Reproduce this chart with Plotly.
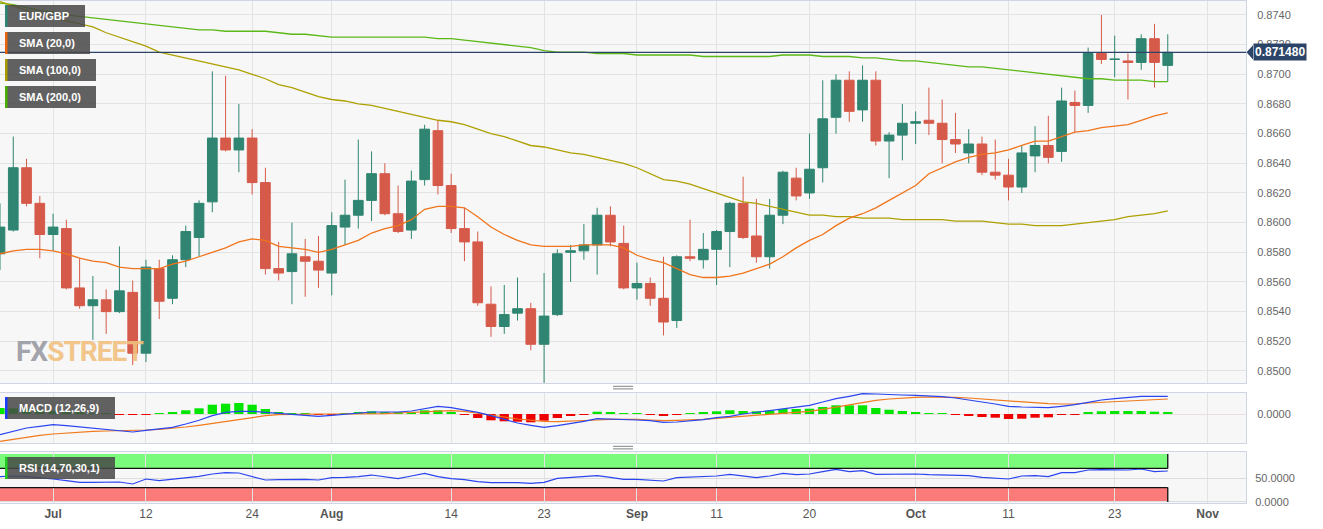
import pandas as pd
import plotly.graph_objects as go

# ---------------- data ----------------
dates = pd.bdate_range("2023-06-27", "2023-10-27")  # 89 daily candles

opens = [0.8579, 0.8595, 0.8637, 0.8613, 0.8592, 0.8596, 0.8556, 0.8544, 0.8548, 0.8540,
         0.8553, 0.8512, 0.8569, 0.8549, 0.8575, 0.8590, 0.8614, 0.8657, 0.8649, 0.8657,
         0.8627, 0.8569, 0.8567, 0.8577, 0.8574, 0.8566, 0.8597, 0.8605, 0.8615, 0.8633,
         0.8606, 0.8595, 0.8629, 0.8662, 0.8625, 0.8596, 0.8587, 0.8545, 0.8530, 0.8539,
         0.8542, 0.8518, 0.8538, 0.8580, 0.8581, 0.8585, 0.8605, 0.8586, 0.8556, 0.8559,
         0.8549, 0.8534, 0.8577, 0.8575, 0.8582, 0.8594, 0.8613, 0.8591, 0.8577, 0.8605,
         0.8630, 0.8620, 0.8637, 0.8671, 0.8696, 0.8676, 0.8696, 0.8655, 0.8659, 0.8667,
         0.8669, 0.8667, 0.8656, 0.8647, 0.8653, 0.8634, 0.8632, 0.8624, 0.8645, 0.8652,
         0.8648, 0.8681, 0.8679, 0.8714, 0.8710, 0.8709, 0.8708, 0.8724, 0.8706]
highs = [0.8613, 0.8658, 0.8643, 0.8618, 0.8606, 0.8602, 0.8576, 0.8564, 0.8555, 0.8584,
         0.8561, 0.8575, 0.8575, 0.8578, 0.8598, 0.8615, 0.8702, 0.8699, 0.8680, 0.8663,
         0.8637, 0.8587, 0.8600, 0.8589, 0.8591, 0.8607, 0.8629, 0.8656, 0.8648, 0.8640,
         0.8625, 0.8635, 0.8666, 0.8669, 0.8633, 0.8610, 0.8594, 0.8557, 0.8558, 0.8563,
         0.8546, 0.8566, 0.8582, 0.8585, 0.8599, 0.8610, 0.8611, 0.8598, 0.8573, 0.8563,
         0.8577, 0.8578, 0.8602, 0.8593, 0.8595, 0.8614, 0.8631, 0.8616, 0.8616, 0.8635,
         0.8637, 0.8660, 0.8696, 0.8700, 0.8702, 0.8706, 0.8702, 0.8661, 0.8680, 0.8675,
         0.8691, 0.8683, 0.8674, 0.8663, 0.8658, 0.8656, 0.8643, 0.8652, 0.8665, 0.8672,
         0.8691, 0.8689, 0.8718, 0.8740, 0.8726, 0.8714, 0.8727, 0.8734, 0.8727]
lows = [0.8568, 0.8594, 0.8611, 0.8576, 0.8581, 0.8555, 0.8542, 0.8521, 0.8525, 0.8539,
        0.8504, 0.8506, 0.8535, 0.8545, 0.8570, 0.8577, 0.8607, 0.8648, 0.8634, 0.8619,
        0.8565, 0.8561, 0.8545, 0.8550, 0.8556, 0.8551, 0.8585, 0.8596, 0.8601, 0.8605,
        0.8593, 0.8589, 0.8625, 0.8619, 0.8593, 0.8574, 0.8544, 0.8523, 0.8525, 0.8534,
        0.8514, 0.8492, 0.8537, 0.8560, 0.8575, 0.8565, 0.8584, 0.8555, 0.8548, 0.8544,
        0.8524, 0.8529, 0.8574, 0.8569, 0.8558, 0.8570, 0.8589, 0.8573, 0.8569, 0.8599,
        0.8615, 0.8616, 0.8627, 0.8660, 0.8668, 0.8668, 0.8652, 0.8630, 0.8642, 0.8653,
        0.8659, 0.8640, 0.8647, 0.8640, 0.8632, 0.8629, 0.8615, 0.8620, 0.8634, 0.8640,
        0.8641, 0.8661, 0.8674, 0.8707, 0.8698, 0.8683, 0.8703, 0.8691, 0.8695]
closes = [0.8597, 0.8637, 0.8613, 0.8592, 0.8597, 0.8556, 0.8544, 0.8548, 0.8540, 0.8554,
          0.8512, 0.8570, 0.8547, 0.8575, 0.8594, 0.8613, 0.8657, 0.8649, 0.8657, 0.8627,
          0.8569, 0.8566, 0.8579, 0.8574, 0.8568, 0.8598, 0.8605, 0.8615, 0.8633, 0.8606,
          0.8594, 0.8628, 0.8663, 0.8625, 0.8596, 0.8587, 0.8546, 0.8530, 0.8538, 0.8542,
          0.8518, 0.8537, 0.8579, 0.8581, 0.8585, 0.8605, 0.8587, 0.8556, 0.8559, 0.8549,
          0.8533, 0.8577, 0.8576, 0.8582, 0.8594, 0.8613, 0.8590, 0.8577, 0.8605, 0.8634,
          0.8618, 0.8636, 0.8670, 0.8696, 0.8675, 0.8696, 0.8655, 0.8659, 0.8667, 0.8668,
          0.8667, 0.8656, 0.8653, 0.8653, 0.8634, 0.8632, 0.8624, 0.8647, 0.8652, 0.8644,
          0.8682, 0.8679, 0.8714, 0.8710, 0.87102, 0.8708, 0.8724, 0.8708, 0.87148]

sma20 = [0.8579, 0.8581, 0.8582, 0.8582, 0.8581, 0.8579, 0.8576, 0.8574, 0.8573, 0.8570,
         0.8569, 0.8569, 0.8569, 0.8572, 0.8574, 0.8577, 0.8580, 0.8583, 0.8587, 0.8589,
         0.8588, 0.8584, 0.8583, 0.8582, 0.8580, 0.8582, 0.8585, 0.8588, 0.8593, 0.8596,
         0.8598, 0.8602, 0.8609, 0.8611, 0.8611, 0.8610, 0.8604, 0.8597, 0.8592, 0.8588,
         0.8585, 0.8584, 0.8584, 0.8584, 0.8585, 0.8585, 0.8585, 0.8583, 0.8578, 0.8575,
         0.8573, 0.8569, 0.8565, 0.8563, 0.8563, 0.8564, 0.8566, 0.8569, 0.8572, 0.8577,
         0.8583, 0.8588, 0.8592, 0.8598, 0.8603, 0.8606, 0.8610, 0.8615, 0.8620, 0.8625,
         0.8633, 0.8637, 0.8641, 0.8644, 0.8646, 0.8647, 0.8649, 0.8652, 0.8655, 0.8655,
         0.8658, 0.8661, 0.8662, 0.8664, 0.8665, 0.8666, 0.8669, 0.8672, 0.8674]
sma100 = [0.8749, 0.8746, 0.8743, 0.8741, 0.8738, 0.8736, 0.8734, 0.8732, 0.8728, 0.8725,
          0.8722, 0.8719, 0.8715, 0.8713, 0.8711, 0.8709, 0.8707, 0.8705, 0.8703, 0.8700,
          0.8697, 0.8693, 0.8691, 0.8688, 0.8685, 0.8683, 0.8682, 0.8680, 0.8679, 0.8677,
          0.8675, 0.8673, 0.8671, 0.8669, 0.8668, 0.8666, 0.8663, 0.8660, 0.8658, 0.8655,
          0.8652, 0.8651, 0.8649, 0.8647, 0.8646, 0.8644, 0.8642, 0.8640, 0.8637, 0.8633,
          0.8629, 0.8628, 0.8626, 0.8623, 0.8620, 0.8617, 0.8614, 0.8613, 0.8611, 0.8609,
          0.8607, 0.8605, 0.8605, 0.8604, 0.8604, 0.8603, 0.8603, 0.8603, 0.8602, 0.8602,
          0.8602, 0.8602, 0.8601, 0.8601, 0.8601, 0.8600, 0.8599, 0.8599, 0.8598, 0.8598,
          0.8598, 0.8599, 0.8600, 0.8601, 0.8602, 0.8604, 0.8605, 0.8606, 0.8608]
sma200 = [0.8748, 0.8747, 0.8745, 0.8743, 0.8742, 0.8740, 0.8739, 0.8738, 0.8737, 0.8736,
          0.8735, 0.8734, 0.8733, 0.8732, 0.8731, 0.8730, 0.8730, 0.8729, 0.8729, 0.8729,
          0.8729, 0.8728, 0.8727, 0.8727, 0.8726, 0.8725, 0.8725, 0.8725, 0.8725, 0.8725,
          0.8725, 0.8725, 0.8725, 0.8724, 0.8724, 0.8723, 0.8722, 0.8721, 0.8720, 0.8719,
          0.8718, 0.8716, 0.8715, 0.8715, 0.8715, 0.8714, 0.8714, 0.8714, 0.8713, 0.8713,
          0.8713, 0.8713, 0.8713, 0.8712, 0.8712, 0.8712, 0.8712, 0.8712, 0.8712, 0.8713,
          0.8713, 0.8713, 0.8712, 0.8712, 0.8712, 0.8711, 0.8711, 0.8710, 0.8709, 0.8709,
          0.8708, 0.8707, 0.8706, 0.8705, 0.8705, 0.8704, 0.8703, 0.8702, 0.8701, 0.8700,
          0.8699, 0.8698, 0.8697, 0.8697, 0.8696, 0.8696, 0.8696, 0.8695, 0.8695]

macd_line = [-0.00207, -0.00173, -0.00140, -0.00123, -0.00107, -0.00117, -0.00130, -0.00143, -0.00157, -0.00170,
             -0.00180, -0.00163, -0.00150, -0.00133, -0.00100, -0.00063, -0.00017, 0.00017, 0.00027, 0.00027,
             0.00017, 0.00007, 0.00000, -0.00010, -0.00023, -0.00013, 0.00000, 0.00010, 0.00020, 0.00020,
             0.00020, 0.00030, 0.00053, 0.00077, 0.00063, 0.00043, 0.00017, -0.00017, -0.00057, -0.00090,
             -0.00113, -0.00133, -0.00117, -0.00097, -0.00073, -0.00047, -0.00050, -0.00057, -0.00060, -0.00067,
             -0.00083, -0.00080, -0.00070, -0.00057, -0.00037, -0.00023, 0.00000, 0.00017, 0.00033, 0.00050,
             0.00063, 0.00087, 0.00120, 0.00153, 0.00177, 0.00203, 0.00200, 0.00193, 0.00190, 0.00187,
             0.00183, 0.00173, 0.00160, 0.00143, 0.00120, 0.00100, 0.00077, 0.00070, 0.00067, 0.00063,
             0.00077, 0.00093, 0.00117, 0.00140, 0.00153, 0.00163, 0.00177, 0.00177, 0.00177]
macd_signal = [-0.00273, -0.00253, -0.00230, -0.00213, -0.00200, -0.00190, -0.00180, -0.00173, -0.00170, -0.00167,
               -0.00167, -0.00160, -0.00153, -0.00143, -0.00130, -0.00113, -0.00093, -0.00070, -0.00050, -0.00030,
               -0.00017, -0.00007, -0.00003, 0.00000, 0.00000, 0.00000, 0.00000, 0.00000, 0.00000, 0.00003,
               0.00010, 0.00017, 0.00023, 0.00030, 0.00033, 0.00027, 0.00010, -0.00007, -0.00030, -0.00050,
               -0.00063, -0.00073, -0.00077, -0.00073, -0.00067, -0.00060, -0.00053, -0.00050, -0.00053, -0.00060,
               -0.00067, -0.00063, -0.00060, -0.00053, -0.00043, -0.00033, -0.00023, -0.00013, -0.00003, 0.00007,
               0.00013, 0.00027, 0.00047, 0.00070, 0.00093, 0.00120, 0.00137, 0.00150, 0.00160, 0.00167,
               0.00170, 0.00170, 0.00167, 0.00160, 0.00150, 0.00140, 0.00130, 0.00120, 0.00110, 0.00103,
               0.00100, 0.00100, 0.00110, 0.00117, 0.00123, 0.00130, 0.00137, 0.00143, 0.00150]
macd_hist = [0.00060, 0.00057, 0.00050, 0.00040, 0.00030, 0.00020, 0.00013, 0.00007, 0.00003, -0.00003,
             -0.00010, -0.00003, 0.00003, 0.00020, 0.00037, 0.00057, 0.00093, 0.00103, 0.00110, 0.00093,
             0.00050, 0.00020, 0.00010, 0.00003, -0.00010, -0.00003, 0.00010, 0.00017, 0.00027, 0.00020,
             0.00020, 0.00020, 0.00037, 0.00037, 0.00017, -0.00010, -0.00040, -0.00063, -0.00073, -0.00077,
             -0.00083, -0.00067, -0.00040, -0.00017, -0.00003, 0.00023, 0.00020, 0.00010, 0.00010, -0.00010,
             -0.00017, -0.00003, 0.00010, 0.00017, 0.00027, 0.00037, 0.00030, 0.00027, 0.00033, 0.00050,
             0.00050, 0.00053, 0.00070, 0.00087, 0.00087, 0.00087, 0.00060, 0.00043, 0.00030, 0.00020,
             0.00010, 0.00003, -0.00010, -0.00017, -0.00030, -0.00037, -0.00050, -0.00047, -0.00037, -0.00033,
             -0.00010, -0.00003, 0.00017, 0.00027, 0.00030, 0.00030, 0.00030, 0.00023, 0.00020]
rsi = [52.8, 54.2, 52.8, 50.7, 47.9, 44.4, 41.0, 41.0, 41.7, 41.7,
       37.5, 47.9, 44.4, 47.2, 51.4, 53.5, 58.3, 61.1, 60.4, 52.8,
       45.8, 46.5, 47.2, 47.2, 45.8, 50.7, 51.4, 52.8, 56.2, 52.8,
       48.6, 54.2, 59.7, 52.8, 48.6, 46.5, 42.4, 40.3, 41.0, 40.3,
       38.9, 41.0, 49.3, 50.7, 52.1, 54.9, 51.4, 47.2, 47.2, 45.8,
       43.8, 50.7, 51.4, 52.8, 54.2, 57.6, 54.9, 50.7, 54.2, 59.7,
       56.9, 58.3, 63.2, 68.1, 63.2, 65.3, 57.6, 58.3, 58.3, 58.3,
       56.9, 56.2, 56.2, 54.9, 51.4, 49.3, 47.9, 54.2, 54.9, 52.8,
       61.1, 61.1, 66.7, 67.4, 66.7, 66.7, 68.8, 63.2, 64.6]

tick_dates = ["2023-07-03", "2023-07-12", "2023-07-24", "2023-08-01", "2023-08-14", "2023-08-23",
              "2023-09-01", "2023-09-11", "2023-09-20", "2023-10-02", "2023-10-11", "2023-10-23",
              "2023-11-01"]
tick_labels = ["<b>Jul</b>", "12", "24", "<b>Aug</b>", "14", "23", "<b>Sep</b>", "11", "20",
               "<b>Oct</b>", "11", "23", "<b>Nov</b>"]
last_price = 0.871480
rsi_upper, rsi_lower = 70, 30

# ---------------- positions on a trading-day axis ----------------
calendar = pd.bdate_range("2023-06-27", "2023-11-30")
pos = {d: i for i, d in enumerate(calendar)}
xs = [pos[d] for d in dates]
tickvals = [pos[pd.Timestamp(d)] for d in tick_dates]

W, H = 1323, 529
PW, PH, PB = 1246, 502, 26


def px(x):
    return x / PW


def py(y):
    return (H - PB - y) / PH


GREEN = "#2f8571"
RED = "#d65a4a"

fig = go.Figure()
fig.add_trace(go.Candlestick(
    x=xs, open=opens, high=highs, low=lows, close=closes,
    increasing=dict(line=dict(color=GREEN, width=1), fillcolor=GREEN),
    decreasing=dict(line=dict(color=RED, width=1), fillcolor=RED),
    whiskerwidth=0, xaxis="x", yaxis="y", showlegend=False, hoverinfo="skip"))
fig.add_trace(go.Scatter(x=xs, y=sma200, mode="lines", line=dict(color="#5cb816", width=1.3),
                         xaxis="x", yaxis="y", showlegend=False, hoverinfo="skip"))
fig.add_trace(go.Scatter(x=xs, y=sma100, mode="lines", line=dict(color="#aea000", width=1.3),
                         xaxis="x", yaxis="y", showlegend=False, hoverinfo="skip"))
fig.add_trace(go.Scatter(x=xs, y=sma20, mode="lines", line=dict(color="#f0741c", width=1.3),
                         xaxis="x", yaxis="y", showlegend=False, hoverinfo="skip"))

# MACD
fig.add_trace(go.Bar(x=xs, y=macd_hist, width=0.7,
                     marker=dict(color=["#00e600" if v >= 0 else "#ee0000" for v in macd_hist], line_width=0),
                     xaxis="x2", yaxis="y2", showlegend=False, hoverinfo="skip"))
fig.add_trace(go.Scatter(x=xs, y=macd_signal, mode="lines", line=dict(color="#f07a1c", width=1.2),
                         xaxis="x2", yaxis="y2", showlegend=False, hoverinfo="skip"))
fig.add_trace(go.Scatter(x=xs, y=macd_line, mode="lines", line=dict(color="#2a45f0", width=1.2),
                         xaxis="x2", yaxis="y2", showlegend=False, hoverinfo="skip"))

# RSI
fig.add_trace(go.Scatter(x=xs, y=rsi, mode="lines", line=dict(color="#2a45f0", width=1.2),
                         xaxis="x3", yaxis="y3", showlegend=False, hoverinfo="skip"))

shapes = []
last_x = xs[-1]
# RSI bands
shapes += [
    dict(type="rect", xref="x3", yref="y3", x0=-1, x1=last_x, y0=rsi_upper, y1=100,
         fillcolor="rgba(0,255,0,0.5)", line_width=0, layer="below"),
    dict(type="rect", xref="x3", yref="y3", x0=-1, x1=last_x, y0=0, y1=rsi_lower,
         fillcolor="rgba(255,0,0,0.5)", line_width=0, layer="below"),
    dict(type="line", xref="x3", yref="y3", x0=-1, x1=last_x, y0=rsi_upper, y1=rsi_upper,
         line=dict(color="#111", width=1.3)),
    dict(type="line", xref="x3", yref="y3", x0=last_x, x1=last_x, y0=rsi_upper, y1=100,
         line=dict(color="#111", width=1.3)),
    dict(type="line", xref="x3", yref="y3", x0=-1, x1=last_x, y0=rsi_lower, y1=rsi_lower,
         line=dict(color="#111", width=1.3)),
    dict(type="line", xref="x3", yref="y3", x0=last_x, x1=last_x, y0=0, y1=rsi_lower,
         line=dict(color="#111", width=1.3)),
]
# current price line + arrow of the tag
shapes.append(dict(type="line", xref="paper", yref="y", x0=0, x1=1, y0=last_price, y1=last_price,
                   line=dict(color="#2c4468", width=1.3)))
shapes.append(dict(type="path", xref="paper", yref="y",
                   path=f"M {px(1246.5)} {last_price} L {px(1253)} {last_price + 0.00048} "
                        f"L {px(1253)} {last_price - 0.00048} Z",
                   fillcolor="#2c4468", line_width=0))
# splitter handles
for yy in (386.3, 388.9, 446.3, 448.9):
    shapes.append(dict(type="line", xref="paper", yref="paper", x0=px(613), x1=px(633),
                       y0=py(yy), y1=py(yy), line=dict(color="#808080", width=1)))

annotations = []
labels = [("EUR/GBP", GREEN, 85, 5, 27),
          ("SMA (20,0)", "#e8650e", 90, 32, 54),
          ("SMA (100,0)", "#a89a00", 96, 59, 81),
          ("SMA (200,0)", "#4cae00", 96, 86, 108),
          ("MACD (12,26,9)", "#1a3cff", 115, 397, 419),
          ("RSI (14,70,30,1)", "#22cc22", 115, 457, 479)]
for text, col, x1, y0, y1 in labels:
    shapes.append(dict(type="rect", xref="paper", yref="paper", x0=px(5), x1=px(x1), y0=py(y1), y1=py(y0),
                       fillcolor="rgba(72,72,72,0.86)", line_width=0, layer="above"))
    shapes.append(dict(type="rect", xref="paper", yref="paper", x0=px(5), x1=px(7.5), y0=py(y1), y1=py(y0),
                       fillcolor=col, line_width=0, layer="above"))
    annotations.append(dict(x=px(17), y=py((y0 + y1) / 2), xref="paper", yref="paper", xanchor="left",
                            yanchor="middle", showarrow=False, text=f"<b>{text}</b>",
                            font=dict(color="white", size=11, family="Arial, Liberation Sans, sans-serif")))

annotations.append(dict(x=px(1253), y=last_price, xref="paper", yref="y", xanchor="left", yanchor="middle",
                        showarrow=False, text=f"<b>{last_price:.6f}</b>", bgcolor="#2c4468", borderpad=1,
                        font=dict(color="white", size=12, family="Arial, Liberation Sans, sans-serif")))
annotations.append(dict(x=px(14), y=py(351), xref="paper", yref="paper", xanchor="left", yanchor="middle",
                        showarrow=False, opacity=0.9,
                        text="<b><span style='color:#9a9aa4;letter-spacing:-1px'>FX</span>"
                             "<span style='color:#f2c080;letter-spacing:-1px'>STREET</span></b>",
                        font=dict(size=28, family="Roboto, Liberation Sans, sans-serif")))

GRID = "#e3e3e3"
BORDER = "#cfd5e5"
xcommon = dict(tickmode="array", tickvals=tickvals, showgrid=True, gridcolor=GRID, gridwidth=1,
               zeroline=False, showline=True, mirror=True, linecolor=BORDER, linewidth=1, ticks="")
tickfont = dict(size=11, color="#666", family="Arial, Liberation Sans, sans-serif")

fig.update_layout(
    width=W, height=H,
    margin=dict(l=0, r=W - PW, t=1, b=PB),
    paper_bgcolor="white", plot_bgcolor="#f7f7f7",
    showlegend=False, hovermode=False, dragmode=False,
    boxgap=0.27, boxgroupgap=0,
    font=dict(family="Arial, Liberation Sans, sans-serif"),
    xaxis=dict(domain=[0, 1], anchor="y", range=[0, PW / 13.27], showticklabels=False,
               rangeslider=dict(visible=False), **xcommon),
    xaxis2=dict(domain=[0, 1], anchor="y2", matches="x", showticklabels=False, **xcommon),
    xaxis3=dict(domain=[0, 1], anchor="y3", matches="x", ticktext=tick_labels, showticklabels=True,
                tickfont=dict(size=12, color="#555", family="Arial, Liberation Sans, sans-serif"), **xcommon),
    yaxis=dict(domain=[py(383), py(1)], anchor="x", side="right", range=[0.84919, 0.87494],
               tick0=0.85, dtick=0.002, tickformat=".4f", showgrid=True, gridcolor=GRID,
               zeroline=False, showline=True, mirror=True, linecolor=BORDER, ticks="",
               ticklabelstandoff=8, tickfont=tickfont),
    yaxis2=dict(domain=[py(443), py(393)], anchor="x2", side="right", range=[-0.0029, 0.0021],
                tickmode="array", tickvals=[0], ticktext=["0.0000"], showgrid=True, gridcolor="#eadede",
                zeroline=False, showline=True, mirror=True, linecolor=BORDER, ticks="",
                ticklabelstandoff=8, tickfont=tickfont),
    yaxis3=dict(domain=[0, py(452)], anchor="x3", side="right", range=[-2.1, 104.2],
                tickmode="array", tickvals=[0, 50], ticktext=["0.0000", "50.0000"], showgrid=True,
                gridcolor="#dcdcdc", zeroline=False, showline=True, mirror=True, linecolor=BORDER, ticks="",
                ticklabelstandoff=6, tickfont=tickfont),
    shapes=shapes, annotations=annotations,
)

fig.write_html("out.html", config={"displayModeBar": False},
               post_script="document.body.style.margin='0px';")
